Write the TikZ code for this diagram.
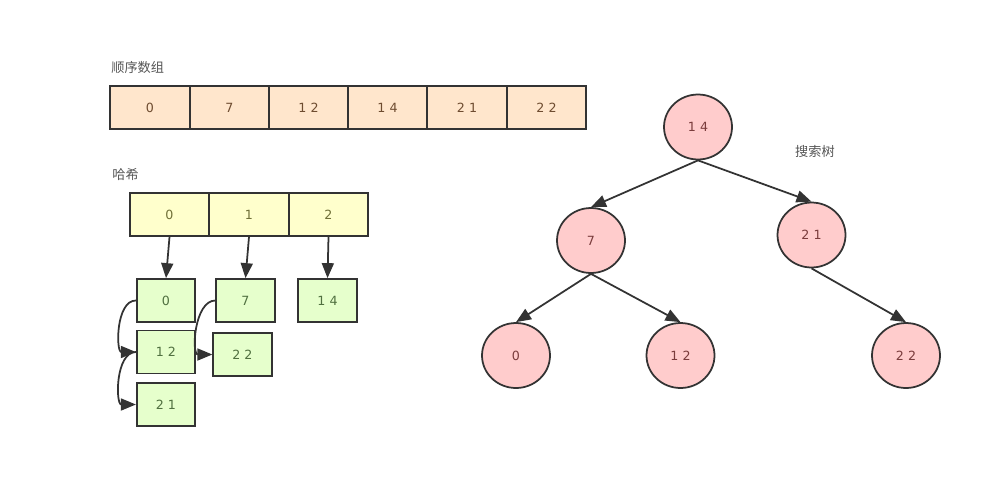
\documentclass[tikz,border=0pt]{standalone}
\usepackage{fontspec}
\setmainfont{DejaVu Sans}
\newfontfamily\cjk{Noto Sans CJK SC}
\usetikzlibrary{arrows.meta,shapes.geometric}
\definecolor{peach}{HTML}{FFE6CC}
\definecolor{lyellow}{HTML}{FFFFCC}
\definecolor{lgreen}{HTML}{E6FFCC}
\definecolor{lpink}{HTML}{FFCCCC}
\definecolor{edge}{HTML}{333333}
\definecolor{tpeach}{HTML}{6E4C30}
\definecolor{tyellow}{HTML}{707038}
\definecolor{tgreen}{HTML}{507040}
\definecolor{tpink}{HTML}{7A3C3C}
\definecolor{lbl}{HTML}{555555}
\tikzset{
  cell/.style={draw=edge, line width=1pt, rectangle, inner sep=0pt,
    minimum width=15.86mm, minimum height=8.6mm,
    font=\fontsize{7.2}{8}\selectfont},
  arrcell/.style={cell, fill=peach, text=tpeach},
  hashcell/.style={cell, fill=lyellow, text=tyellow},
  gbox/.style={cell, fill=lgreen, text=tgreen, minimum width=11.7mm},
  tnode/.style={draw=edge, line width=1pt, ellipse, fill=lpink, text=tpink,
    inner sep=0pt, minimum width=13.6mm, minimum height=13mm,
    font=\fontsize{7.2}{8}\selectfont},
  lab/.style={text=lbl, font=\cjk\fontsize{7.5}{9}\selectfont, inner sep=0pt},
  arr/.style={draw=edge, line width=1pt, -{Triangle[length=3mm,width=2.4mm]}},
}
\begin{document}
\begin{tikzpicture}[x=0.02cm,y=-0.02cm]
\useasboundingbox (0,0) rectangle (1000,487);
% sequential array
\node[lab, anchor=west] (lseq) at (111,67) {顺序数组};
\node[arrcell] (a0) at (150,107.5) {0};
\node[arrcell] (a1) at (229.5,107.5) {7};
\node[arrcell] (a2) at (308.5,107.5) {1 2};
\node[arrcell] (a3) at (387.5,107.5) {1 4};
\node[arrcell] (a4) at (467,107.5) {2 1};
\node[arrcell] (a5) at (546.5,107.5) {2 2};
% hash
\node[lab, anchor=west] (lhash) at (112,174) {哈希};
\node[hashcell] (h0) at (169.5,214.5) {0};
\node[hashcell] (h1) at (249,214.5) {1};
\node[hashcell] (h2) at (328.5,214.5) {2};
\node[gbox] (g0) at (166,300.5) {0};
\node[gbox] (g7) at (245.5,300.5) {7};
\node[gbox] (g14) at (327.5,300.5) {1 4};
\node[gbox] (g12) at (166,352) {1 2};
\node[gbox] (g22) at (242.5,354.5) {2 2};
\node[gbox] (g21) at (166,404.5) {2 1};
\draw[arr] (h0.south) -- (g0.north);
\draw[arr] (h1.south) -- (g7.north);
\draw[arr] (h2.south) -- (g14.north);
\draw[arr] (g0.west) to[out=180,in=180] (g12.west);
\draw[arr] (g12.west) to[out=180,in=180] (g21.west);
\draw[arr] (g7.west) to[out=180,in=180] (g22.west);
% search tree
\node[lab] (ltree) at (815,151) {搜索树};
\node[tnode] (t14) at (698,127) {1 4};
\node[tnode] (t7) at (591,240.5) {7};
\node[tnode] (t21) at (811.5,235) {2 1};
\node[tnode] (t0) at (516,355.5) {0};
\node[tnode] (t12) at (680.5,355.5) {1 2};
\node[tnode] (t22) at (906,355.5) {2 2};
\draw[arr] (t14.south) -- (t7.north);
\draw[arr] (t14.south) -- (t21.north);
\draw[arr] (t7.south) -- (t0.north);
\draw[arr] (t7.south) -- (t12.north);
\draw[arr] (t21.south) -- (t22.north);
\end{tikzpicture}
\end{document}
